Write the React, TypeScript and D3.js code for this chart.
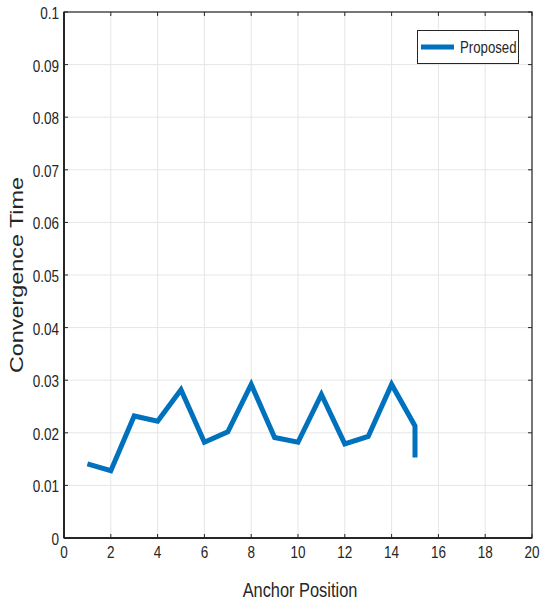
import React from "react";
import * as d3 from "d3";

const anchorPos = [1, 2, 3, 4, 5, 6, 7, 8, 9, 10, 11, 12, 13, 14, 15, 15];
const convTime = [0.0141, 0.0128, 0.0232, 0.0222, 0.0282, 0.0182, 0.0202, 0.0292, 0.0191, 0.0182, 0.0273, 0.0179, 0.0193, 0.0292, 0.0213, 0.0153];
const xTicks = [0, 2, 4, 6, 8, 10, 12, 14, 16, 18, 20];
const yTicks = [0, 0.01, 0.02, 0.03, 0.04, 0.05, 0.06, 0.07, 0.08, 0.09, 0.1];
const seriesName = "Proposed";

const W = 542, H = 602;
const margin = { top: 12, right: 10, bottom: 64, left: 64 };
const font = "'Liberation Sans', Arial, sans-serif";

// squeezed text, the reference uses a narrow Helvetica
function NText(props: { x: number; y: number; size: number; anchor?: string; sx?: number; children: any }) {
  const { x, y, size, anchor, sx, children } = props;
  return (
    <text transform={`translate(${x},${y}) scale(${sx ?? 0.82},1)`} textAnchor={anchor || "start"}
      fontFamily={font} fontSize={size} fill="#262626">{children}</text>
  );
}

export default function App() {
  const x = d3.scaleLinear().domain([0, 20]).range([margin.left, W - margin.right]);
  const y = d3.scaleLinear().domain([0, 0.1]).range([H - margin.bottom, margin.top]);
  const line = d3.line<number>().x((d, i) => x(anchorPos[i])).y(d => y(d));
  const x0 = x(0), x1 = x(20), y0 = y(0), y1 = y(0.1);
  const tl = 4;

  return (
    <svg width={W} height={H} style={{ position: "absolute", left: 0, top: 0, background: "#fff" }}>
      {/* grid */}
      {xTicks.map(t => (
        <line key={"gx" + t} x1={x(t)} x2={x(t)} y1={y0} y2={y1} stroke="#e6e6e6" strokeWidth={1} />
      ))}
      {yTicks.map(t => (
        <line key={"gy" + t} x1={x0} x2={x1} y1={y(t)} y2={y(t)} stroke="#e6e6e6" strokeWidth={1} />
      ))}
      {/* box */}
      <rect x={x0} y={y1} width={x1 - x0} height={y0 - y1} fill="none" stroke="#262626" strokeWidth={1.2} />
      <line x1={x0} x2={x0} y1={y0} y2={y1} stroke="#262626" strokeWidth={2} />
      <line x1={x0} x2={x1} y1={y0} y2={y0} stroke="#262626" strokeWidth={2} />
      {/* ticks */}
      {xTicks.map(t => (
        <g key={"tx" + t}>
          <line x1={x(t)} x2={x(t)} y1={y0} y2={y0 - tl} stroke="#262626" />
          <line x1={x(t)} x2={x(t)} y1={y1} y2={y1 + tl} stroke="#262626" />
          <NText x={x(t)} y={y0 + 20} size={16.5} anchor="middle">{t}</NText>
        </g>
      ))}
      {yTicks.map(t => (
        <g key={"ty" + t}>
          <line x1={x0} x2={x0 + tl} y1={y(t)} y2={y(t)} stroke="#262626" />
          <line x1={x1} x2={x1 - tl} y1={y(t)} y2={y(t)} stroke="#262626" />
          <NText x={x0 - 5} y={y(t) + 7} size={16.5} anchor="end">{t}</NText>
        </g>
      ))}
      {/* series */}
      <path d={line(convTime) || ""} fill="none" stroke="#0072BD" strokeWidth={5} strokeLinejoin="miter" strokeLinecap="butt" />
      {/* labels */}
      <NText x={300} y={597} size={20}  anchor="middle">Anchor Position</NText>
      <text transform={`translate(23,${(y0 + y1) / 2}) rotate(-90)`} textAnchor="middle" fontFamily={font}
        fontSize={19} textLength={196} lengthAdjust="spacingAndGlyphs" fill="#262626">Convergence Time</text>
      {/* legend */}
      <g>
        <rect x={417.5} y={30.5} width={101} height={33} fill="#fff" stroke="#262626" strokeWidth={1} />
        <line x1={421} x2={454} y1={47} y2={47} stroke="#0072BD" strokeWidth={5} />
        <NText x={460} y={53} size={16.5} sx={0.8}>{seriesName}</NText>
      </g>
    </svg>
  );
}
